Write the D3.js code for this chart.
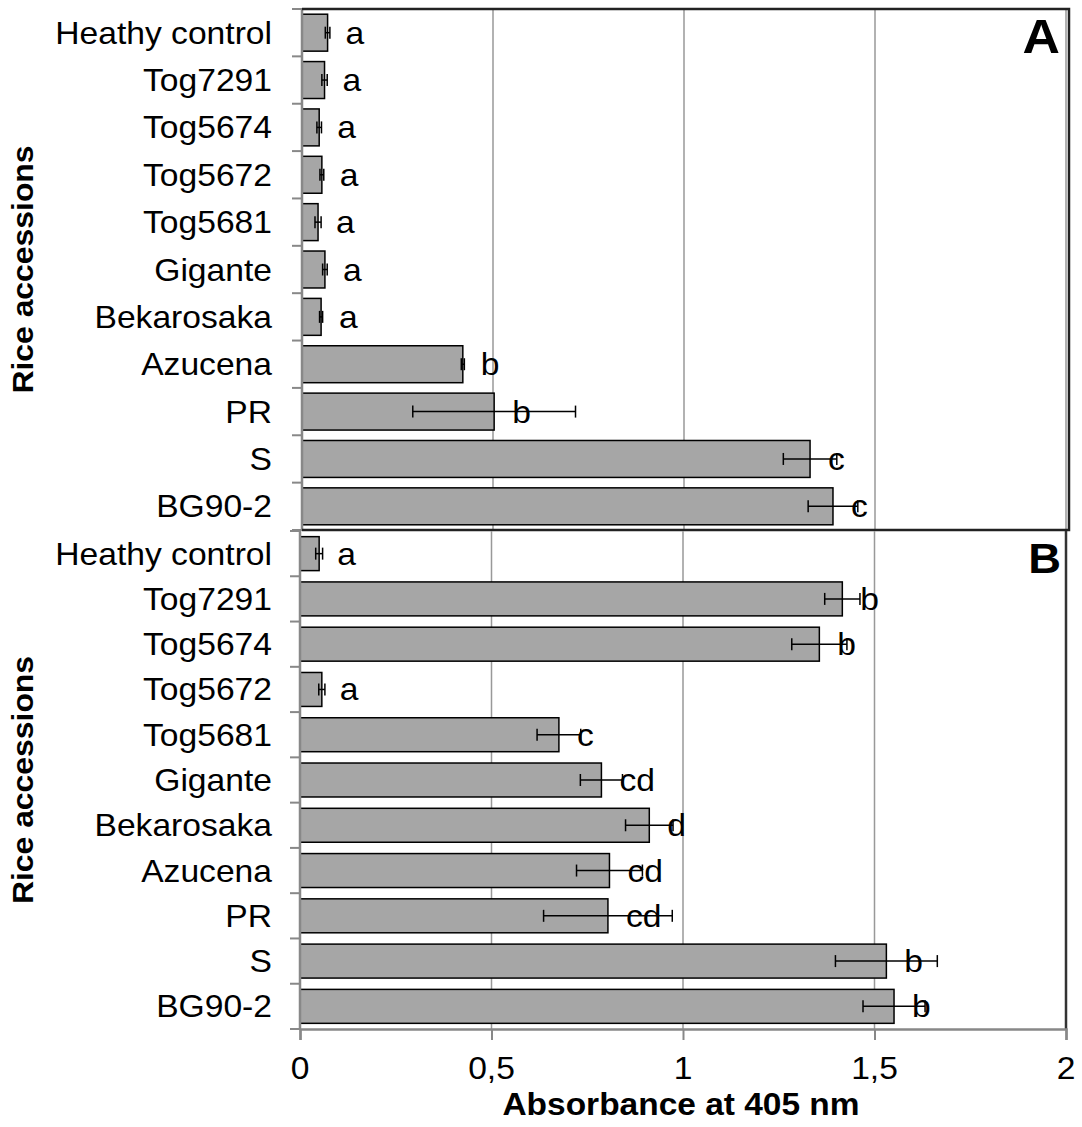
<!DOCTYPE html>
<html><head><meta charset="utf-8">
<script src="https://cdn.jsdelivr.net/npm/d3@7"></script>
<style>body{margin:0;background:#fff}svg{display:block}text{font-family:"Liberation Sans",Arial,sans-serif;fill:#000}</style>
</head><body>
<svg id="c" width="1082" height="1127"></svg>
<script>
const categories = ["Heathy control","Tog7291","Tog5674","Tog5672","Tog5681","Gigante","Bekarosaka","Azucena","PR","S","BG90-2"];
const valuesA = [0.067,0.059,0.045,0.052,0.042,0.060,0.050,0.421,0.503,1.330,1.390];
const errA    = [0.006,0.007,0.006,0.005,0.008,0.006,0.004,0.004,0.213,0.070,0.065];
const lettersA = ["a","a","a","a","a","a","a","b","b","c","c"];
const valuesB = [0.050,1.416,1.356,0.057,0.676,0.787,0.912,0.808,0.804,1.531,1.551];
const errB    = [0.009,0.046,0.072,0.008,0.057,0.055,0.062,0.086,0.168,0.133,0.081];
const lettersB = ["a","b","b","a","c","cd","d","cd","cd","b","b"];
const xTicks = [0,0.5,1,1.5,2];
const tickLabels = ["0","0,5","1","1,5","2"];

const svg = d3.select("#c");
const SX = 1.085;
function txt(g, x, y, s, size, anchor, bold, sx){
  return g.append("text").attr("transform",`translate(${x},${y}) scale(${sx||SX},1)`)
    .attr("text-anchor",anchor).style("font-size",size+"px").style("font-weight",bold?"bold":"normal").text(s);
}

function panel(cfg){
  const x = d3.scaleLinear().domain([0,2]).range([cfg.x0, cfg.x2]);
  const y = d3.scaleBand().domain(categories).range([cfg.top, cfg.bottom]).paddingInner(cfg.pad).paddingOuter(cfg.pad/2);
  const g = svg.append("g");
  g.selectAll("line.grid").data(xTicks.slice(1)).join("line")
    .attr("x1",d=>x(d)).attr("x2",d=>x(d)).attr("y1",cfg.top).attr("y2",cfg.bottom)
    .attr("stroke","#999").attr("stroke-width",1.5);
  g.selectAll("rect").data(categories).join("rect")
    .attr("x",x(0)).attr("y",d=>y(d)).attr("width",(d,i)=>x(cfg.vals[i])-x(0)).attr("height",y.bandwidth())
    .attr("fill","#a6a6a6").attr("stroke","#000").attr("stroke-width",1.5);
  const eb = g.selectAll("g.eb").data(categories).join("g");
  eb.append("line").attr("x1",(d,i)=>x(cfg.vals[i]-cfg.errs[i])).attr("x2",(d,i)=>x(cfg.vals[i]+cfg.errs[i]))
    .attr("y1",d=>y(d)+y.bandwidth()/2).attr("y2",d=>y(d)+y.bandwidth()/2).attr("stroke","#000").attr("stroke-width",1.5);
  [-1,1].forEach(s=>{
    eb.append("line").attr("x1",(d,i)=>x(cfg.vals[i]+s*cfg.errs[i])).attr("x2",(d,i)=>x(cfg.vals[i]+s*cfg.errs[i]))
      .attr("y1",d=>y(d)+y.bandwidth()/2-6).attr("y2",d=>y(d)+y.bandwidth()/2+6).attr("stroke","#000").attr("stroke-width",1.5);
  });
  categories.forEach((c,i)=>{
    txt(g, x(cfg.vals[i])+18, y(c)+y.bandwidth()/2+11, cfg.letters[i], 31, "start");
  });
  categories.forEach(c=>{
    txt(g, 272, y(c)+y.bandwidth()/2+11, c, 31, "end");
  });
  const ax = cfg.x0;
  g.append("line").attr("x1",ax).attr("x2",ax).attr("y1",cfg.top).attr("y2",cfg.bottom).attr("stroke","#888").attr("stroke-width",2.5);
  const bounds = categories.map(c=>y(c)-y.step()*y.paddingInner()/2).concat([cfg.bottom]);
  g.selectAll("line.yt").data(bounds).join("line")
    .attr("x1",ax-10).attr("x2",ax).attr("y1",d=>d).attr("y2",d=>d).attr("stroke","#888").attr("stroke-width",2);
  g.append("text").attr("transform",`translate(33,${(cfg.top+cfg.bottom)/2}) rotate(-90) scale(1.1,1)`)
    .attr("text-anchor","middle").style("font-size","29px").style("font-weight","bold").text("Rice accessions");
  txt(g, cfg.lx, cfg.ly, cfg.label, cfg.lsize, "end", true, 1.08);
  return {x,y,g};
}

const A = panel({x0:302,x2:1066,top:9,bottom:530,pad:0.22,vals:valuesA,errs:errA,letters:lettersA,label:"A",lx:1060,ly:53,lsize:48});
svg.append("path").attr("d","M302,9H1069V530H302").attr("fill","none").attr("stroke","#222").attr("stroke-width",2.5);

const B = panel({x0:300,x2:1066,top:531,bottom:1029,pad:0.25,vals:valuesB,errs:errB,letters:lettersB,label:"B",lx:1061,ly:573,lsize:42});
svg.append("line").attr("x1",1066).attr("x2",1066).attr("y1",531).attr("y2",1029).attr("stroke","#333").attr("stroke-width",2.5);
const xa = svg.append("g").attr("transform","translate(0,1029)")
  .call(d3.axisBottom(B.x).tickValues(xTicks).tickSize(11).tickFormat(""));
xa.select(".domain").attr("stroke","#888").attr("stroke-width",2.5);
xa.selectAll(".tick line").attr("stroke","#888").attr("stroke-width",2);
xTicks.forEach((t,i)=>txt(svg, B.x(t), 1079, tickLabels[i], 31, "middle"));
txt(svg, 681, 1115, "Absorbance at 405 nm", 31, "middle", true, 1.08);
</script>
</body></html>
